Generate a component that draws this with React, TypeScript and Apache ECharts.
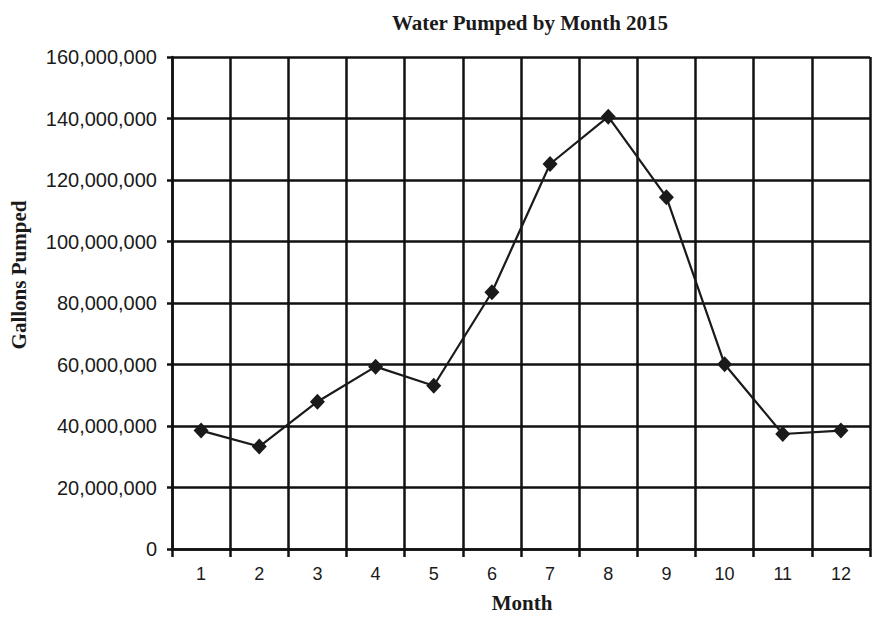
import React, { useEffect, useRef } from "react";
import * as echarts from "echarts";

const months = ["1", "2", "3", "4", "5", "6", "7", "8", "9", "10", "11", "12"];
const gallonsPumped = [
  38500000, 33300000, 47900000, 59300000, 53100000, 83500000,
  125200000, 140600000, 114400000, 60100000, 37400000, 38500000,
];
const titleText = "Water Pumped by Month 2015";
const xAxisTitle = "Month";
const yAxisTitle = "Gallons Pumped";

export default function App() {
  const ref = useRef<HTMLDivElement>(null);
  useEffect(() => {
    if (!ref.current) return;
    const chart = echarts.init(ref.current, undefined, { renderer: "svg" });
    const black = "#111";
    chart.setOption({
      animation: false,
      backgroundColor: "#fff",
      grid: { left: 172, right: 2, top: 57, bottom: 68, containLabel: false },
      graphic: [
        {
          type: "text",
          x: 530,
          y: 23,
          style: {
            text: titleText,
            fontFamily: "Liberation Serif",
            fontWeight: "bold",
            fontSize: 21,
            fill: "#1a1a1a",
            align: "center",
            verticalAlign: "middle",
          },
        },
        {
          type: "text",
          x: 522,
          y: 603,
          style: {
            text: xAxisTitle,
            fontFamily: "Liberation Serif",
            fontWeight: "bold",
            fontSize: 21,
            fill: "#1a1a1a",
            align: "center",
            verticalAlign: "middle",
          },
        },
        {
          type: "text",
          x: 19,
          y: 275,
          rotation: Math.PI / 2,
          style: {
            text: yAxisTitle,
            fontFamily: "Liberation Serif",
            fontWeight: "bold",
            fontSize: 21,
            fill: "#1a1a1a",
            align: "center",
            verticalAlign: "middle",
          },
        },
      ],
      xAxis: {
        type: "category",
        data: months,
        boundaryGap: true,
        axisLine: { lineStyle: { color: black, width: 2.5 } },
        axisTick: { show: true, length: 8, interval: 0, lineStyle: { color: black, width: 2.5 } },
        splitLine: { show: true, interval: 0, lineStyle: { color: black, width: 2.5 } },
        axisLabel: {
          interval: 0,
          margin: 16,
          fontFamily: "Liberation Sans",
          fontSize: 18,
          color: "#1a1a1a",
        },
      },
      yAxis: {
        type: "value",
        min: 0,
        max: 160000000,
        interval: 20000000,
        axisLine: { show: true, lineStyle: { color: black, width: 2.5 } },
        axisTick: { show: true, length: 5, lineStyle: { color: black, width: 2.5 } },
        splitLine: { show: true, lineStyle: { color: black, width: 2.5 } },
        axisLabel: {
          margin: 15,
          fontFamily: "Liberation Sans",
          fontSize: 20,
          color: "#1a1a1a",
          formatter: (v: number) => v.toLocaleString("en-US"),
        },
      },
      series: [
        {
          type: "line",
          data: gallonsPumped,
          symbol: "diamond",
          symbolSize: [15, 16],
          lineStyle: { color: "#1a1a1a", width: 2.2 },
          itemStyle: { color: "#1a1a1a" },
        },
      ],
    });
    return () => chart.dispose();
  }, []);
  return (
    <div
      ref={ref}
      style={{ position: "absolute", left: 0, top: 0, width: 872, height: 617 }}
    />
  );
}
